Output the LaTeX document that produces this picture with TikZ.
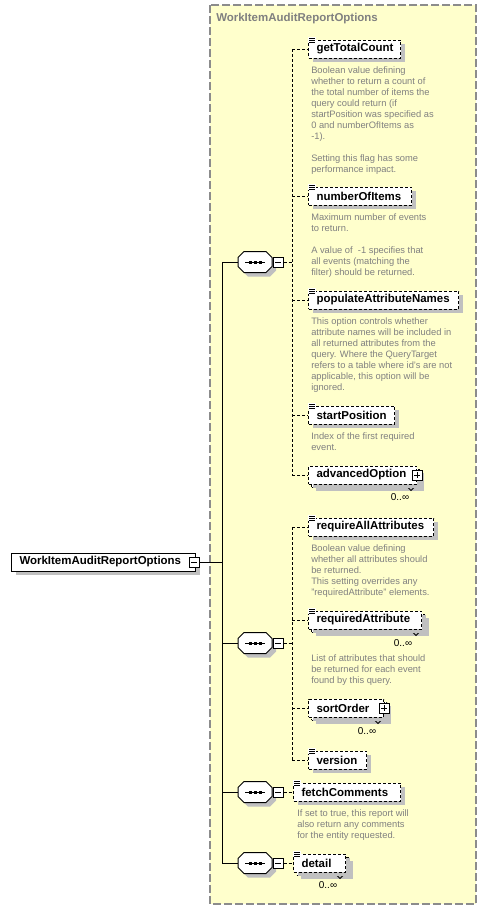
\documentclass[tikz,border=0pt]{standalone}
\usepackage{fontspec}
\setmainfont{Liberation Sans}
\usetikzlibrary{shadows,calc}
\definecolor{bgyellow}{HTML}{FFFFCC}
\definecolor{framegray}{HTML}{8C8C8C}
\definecolor{descgray}{HTML}{808080}
\definecolor{shadowgray}{HTML}{C0C0C0}
\newcommand\octpath[2]{% #1 node, #2 offset
  ($(#1.center)+(-11+#2,-10.5+#2)$) -- ($(#1.center)+(11+#2,-10.5+#2)$) --
  ($(#1.center)+(17+#2,-4.5+#2)$) -- ($(#1.center)+(17+#2,4.5+#2)$) --
  ($(#1.center)+(11+#2,10.5+#2)$) -- ($(#1.center)+(-11+#2,10.5+#2)$) --
  ($(#1.center)+(-17+#2,4.5+#2)$) -- ($(#1.center)+(-17+#2,-4.5+#2)$) -- cycle}
\newcommand\seqglyph[1]{%
  \fill[shadowgray] \octpath{#1}{4};
  \draw[line width=0.75pt, fill=white] \octpath{#1}{0};
  \draw[line width=0.75pt] ($(#1.center)+(-10,0)$) -- ($(#1.center)+(10,0)$);
  \fill ($(#1.center)+(-6.5,-1.5)$) rectangle ++(3,3);
  \fill ($(#1.center)+(-1.5,-1.5)$) rectangle ++(3,3);
  \fill ($(#1.center)+(3.5,-1.5)$) rectangle ++(3,3);}
\newcommand\minusglyph[1]{%
  \draw[line width=0.75pt] ($(#1.center)+(-3,0)$) -- ($(#1.center)+(3,0)$);}
\newcommand\plusglyph[1]{%
  \draw[line width=0.75pt] ($(#1.center)+(-3,0)$) -- ($(#1.center)+(3,0)$);
  \draw[line width=0.75pt] ($(#1.center)+(0,-3)$) -- ($(#1.center)+(0,3)$);}
\newcommand\attricon[1]{%
  \fill[white] ($(#1.north west)+(0,-3)$) rectangle ++(8,6);
  \draw[line width=0.75pt] ($(#1.north west)+(1,-1)$) -- ++(6,0);
  \draw[line width=0.75pt] ($(#1.north west)+(1,1)$) -- ++(6,0);
  \draw[line width=0.75pt] ($(#1.north west)+(1,3)$) -- ++(6,0);}
\newcommand\multtick[1]{%
  \draw[line width=0.75pt] ($(#1.south east)+(-12,0)$) -- ++(3,3) -- ++(3,-3);}
\begin{document}
\begin{tikzpicture}[x=0.75pt,y=-0.75pt,
  boxshadow/.style={drop shadow={shadow xshift=3pt,shadow yshift=-3pt,fill=shadowgray,opacity=1}},
  elem/.style={rectangle, draw=black, line width=0.75pt, dash pattern=on 2.25pt off 1.5pt,
    fill=white, anchor=west, inner xsep=0pt, inner ysep=0pt, minimum height=13.5pt,
    text width=#1, align=left, font=\fontsize{8.6pt}{10pt}\selectfont\bfseries, boxshadow},
  rootbox/.style={rectangle, draw=black, line width=0.75pt, fill=white, anchor=west,
    inner xsep=0pt, inner ysep=0pt, minimum height=13.5pt, text width=#1, align=left,
    font=\fontsize{8.6pt}{10pt}\selectfont\bfseries, boxshadow},
  seqsym/.style={rectangle, minimum width=25.5pt, minimum height=15.75pt, inner sep=0pt},
  pmbox/.style={rectangle, draw=black, fill=white, line width=0.75pt, minimum size=7.5pt, inner sep=0pt},
  desc/.style={anchor=north west, inner sep=0pt, align=left, text=descgray,
    font=\fontsize{7pt}{8.25pt}\selectfont},
  occ/.style={inner sep=0pt, font=\fontsize{7.5pt}{9pt}\selectfont},
  conn/.style={draw=black, line width=0.75pt},
  dconn/.style={draw=black, line width=0.75pt, dash pattern=on 2.25pt off 1.5pt},
  frame/.style={draw=framegray, line width=1pt, dash pattern=on 6pt off 2.25pt, fill=bgyellow}
]
\useasboundingbox (0,0) rectangle (486,910);

% complex type frame
\path[frame] (210,5) rectangle (476,904);
\node[anchor=west, inner sep=0pt, text=descgray, font=\fontsize{8.6pt}{10pt}\selectfont\bfseries]
  (title) at (216,19) {WorkItemAuditReportOptions};

% root
\node[rootbox=138pt] (root) at (11,562) {\hspace*{6pt}WorkItemAuditReportOptions};
\node[pmbox] (rm) at (194,562) {}; \minusglyph{rm}
\coordinate (tk) at (222,562);

% sequences
\node[seqsym] (s1) at (255,262) {}; \seqglyph{s1}
\node[seqsym] (s2) at (255,643) {}; \seqglyph{s2}
\node[seqsym] (s3) at (255,792) {}; \seqglyph{s3}
\node[seqsym] (s4) at (255,863) {}; \seqglyph{s4}
\node[pmbox] (m1) at (278,262) {}; \minusglyph{m1}
\node[pmbox] (m2) at (278,643) {}; \minusglyph{m2}
\node[pmbox] (m3) at (278,792) {}; \minusglyph{m3}
\node[pmbox] (m4) at (278,863) {}; \minusglyph{m4}

% trunk
\draw[conn] (rm.east) -- (tk);
\draw[conn] (s1.west -| tk) -- (s4.west -| tk);
\draw[conn] (s1.west -| tk) -- (s1.west);
\draw[conn] (s2.west -| tk) -- (s2.west);
\draw[conn] (s3.west -| tk) -- (s3.west);
\draw[conn] (s4.west -| tk) -- (s4.west);

% sequence 1 elements
\node[elem=69pt] (e1) at (308,49) {\hspace*{6pt}getTotalCount}; \attricon{e1}
\node[desc] (d1) at (311,66) {Boolean value defining\\whether to return a count of\\the total number of items the\\query could return (if\\startPosition was specified as\\0 and numberOfItems as\\-1).\\[8.25pt]Setting this flag has some\\performance impact.};
\node[elem=77.25pt] (e2) at (308,196) {\hspace*{6pt}numberOfItems}; \attricon{e2}
\node[desc] (d2) at (311,213) {Maximum number of events\\to return.\\[8.25pt]A value of~ -1 specifies that\\all events (matching the\\filter) should be returned.};
\node[elem=112.5pt] (e3) at (308,300) {\hspace*{6pt}populateAttributeNames}; \attricon{e3}
\node[desc] (d3) at (311,317) {This option controls whether\\attribute names will be included in\\all returned attributes from the\\query. Where the QueryTarget\\refers to a table where id's are not\\applicable, this option will be\\ignored.};
\node[elem=64.5pt] (e4) at (308,415) {\hspace*{6pt}startPosition}; \attricon{e4}
\node[desc] (d4) at (311,432) {Index of the first required\\event.};
\node[elem=81pt] (e5b) at (311,478) {}; \multtick{e5b}
\node[elem=81pt] (e5) at (308,475) {\hspace*{6pt}advancedOption};
\node[pmbox] (p5) at (e5.east) {}; \plusglyph{p5}
\node[occ] (o5) at (400,497) {0..∞};
\coordinate (v1) at (292,262);
\draw[dconn] (m1.east) -- (v1);
\draw[dconn] (e1.west -| v1) -- (e5.west -| v1);
\foreach \e in {e1,e2,e3,e4,e5} \draw[dconn] (\e.west -| v1) -- (\e.west);

% sequence 2 elements
\node[elem=93.75pt] (e6) at (308,527) {\hspace*{6pt}requireAllAttributes}; \attricon{e6}
\node[desc] (d6) at (311,544) {Boolean value defining\\whether all attributes should\\be returned.\\This setting overrides any\\"requiredAttribute" elements.};
\node[elem=84.75pt] (e7b) at (311,623) {}; \multtick{e7b}
\node[elem=84.75pt] (e7) at (308,620) {\hspace*{6pt}requiredAttribute}; \attricon{e7}
\node[occ] (o7) at (403,643) {0..∞};
\node[desc] (d7) at (311,654) {List of attributes that should\\be returned for each event\\found by this query.};
\node[elem=56.25pt] (e8b) at (311,711) {}; \multtick{e8b}
\node[elem=56.25pt] (e8) at (308,708) {\hspace*{6pt}sortOrder};
\node[pmbox] (p8) at (e8.east) {}; \plusglyph{p8}
\node[occ] (o8) at (367,731) {0..∞};
\node[elem=43.5pt] (e9) at (308,760) {\hspace*{6pt}version}; \attricon{e9}
\coordinate (v2) at (292,643);
\draw[dconn] (m2.east) -- (v2);
\draw[dconn] (e6.west -| v2) -- (e9.west -| v2);
\foreach \e in {e6,e7,e8,e9} \draw[dconn] (\e.west -| v2) -- (\e.west);

% sequence 3 and 4
\node[elem=80.25pt] (e10) at (293,792) {\hspace*{6pt}fetchComments}; \attricon{e10}
\node[desc] (d10) at (297,809) {If set to true, this report will\\also return any comments\\for the entity requested.};
\draw[dconn] (m3.east) -- (e10.west);
\node[elem=39pt] (e11b) at (296,866) {}; \multtick{e11b}
\node[elem=39pt] (e11) at (293,863) {\hspace*{6pt}detail}; \attricon{e11}
\node[occ] (o11) at (328,885) {0..∞};
\draw[dconn] (m4.east) -- (e11.west);
\end{tikzpicture}
\end{document}
